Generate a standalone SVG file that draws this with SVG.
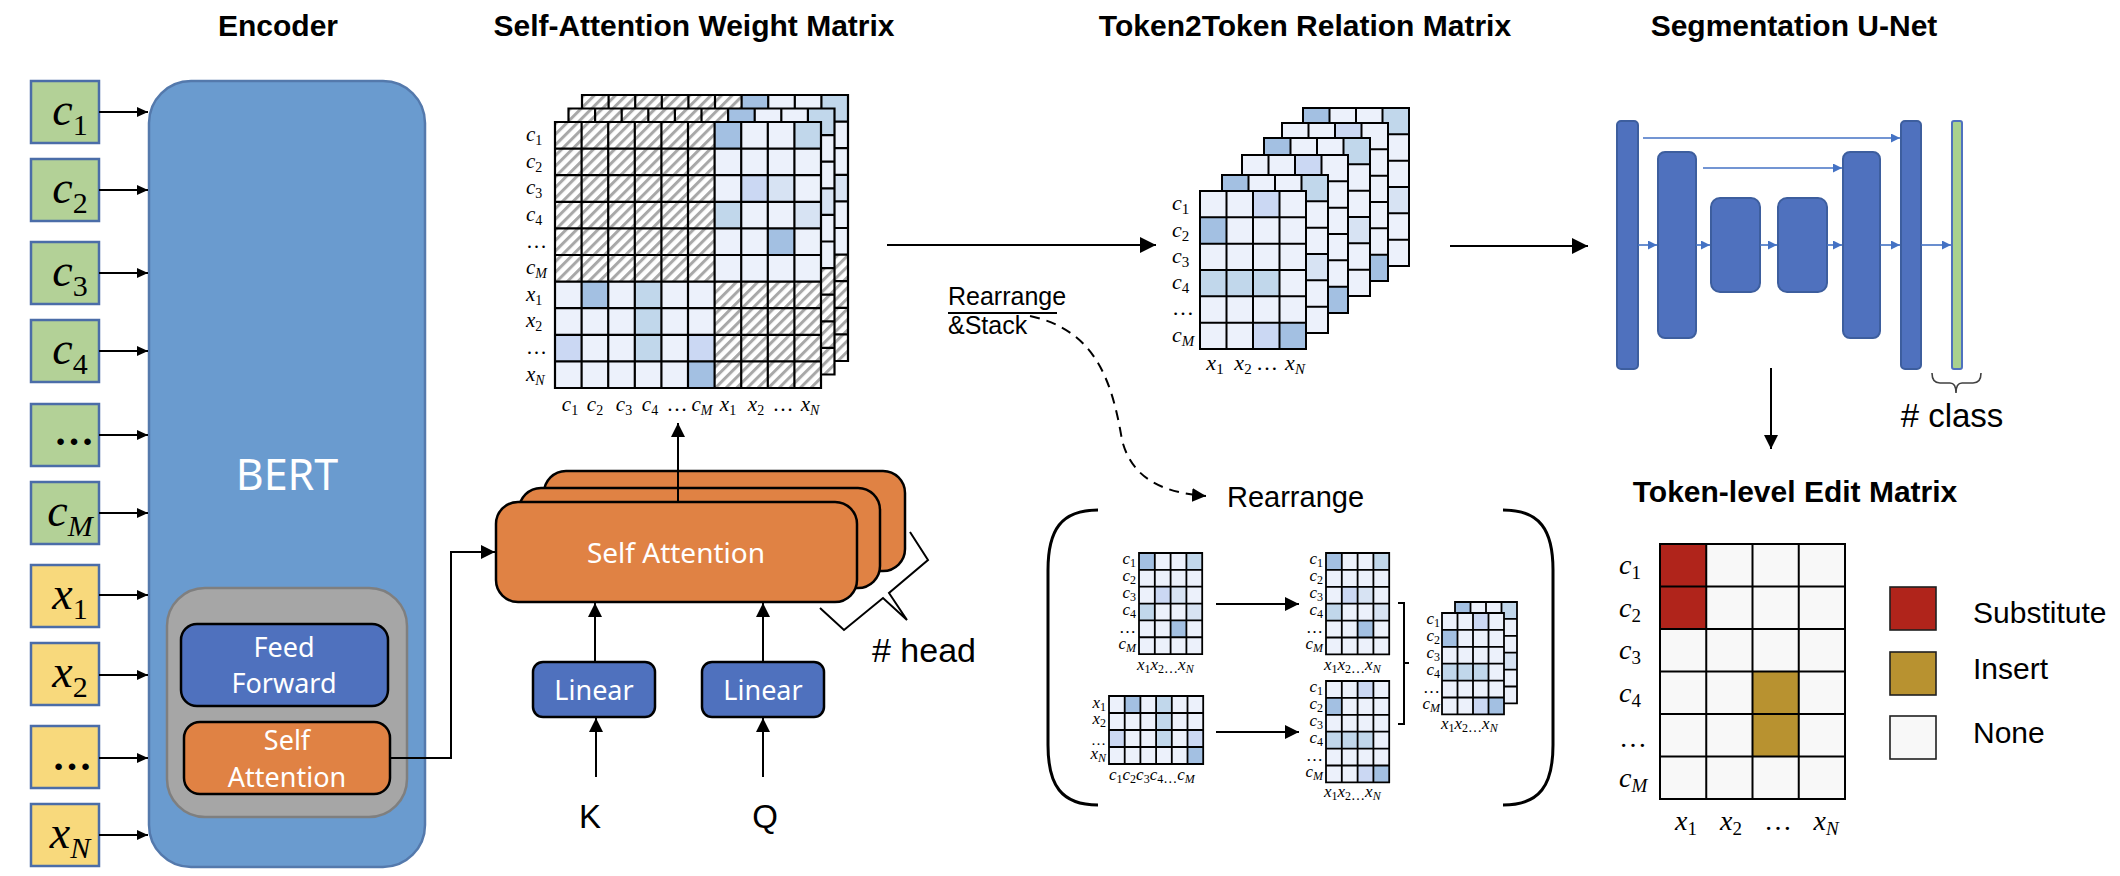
<svg xmlns="http://www.w3.org/2000/svg" width="2120" height="876" viewBox="0 0 2120 876">
<style>
.title{font-family:"Liberation Sans",Arial,sans-serif;font-weight:bold;font-size:30px;text-anchor:middle;fill:#000}
.sans{font-family:"Liberation Sans",Arial,sans-serif;fill:#000}
.ui{font-family:"Noto Sans","Open Sans",sans-serif;fill:#fff;text-anchor:middle}
.m{font-family:"Liberation Serif","DejaVu Serif",serif;font-style:italic;fill:#000}
.n{font-style:normal}
.grid{fill:none;stroke:#000;vector-effect:non-scaling-stroke}
.inbox{stroke:#4B6DA8;stroke-width:2.5}
.arrow{fill:none;stroke:#000;stroke-width:2}
.blue{fill:none;stroke:#4472C4;stroke-width:1.6}
.bar{fill:#4F71BE;stroke:#3D5E9E;stroke-width:2}
</style>
<defs>
<marker id="ahS" markerUnits="userSpaceOnUse" markerWidth="11" markerHeight="10" refX="11" refY="5" orient="auto"><path d="M0,0L11,5L0,10z" fill="#000"/></marker>
<marker id="ahM" markerUnits="userSpaceOnUse" markerWidth="14" markerHeight="14" refX="14" refY="7" orient="auto"><path d="M0,0L14,7L0,14z" fill="#000"/></marker>
<marker id="ahL" markerUnits="userSpaceOnUse" markerWidth="16" markerHeight="16" refX="16" refY="8" orient="auto"><path d="M0,0L16,8L0,16z" fill="#000"/></marker>
<marker id="ahB" markerUnits="userSpaceOnUse" markerWidth="9" markerHeight="9" refX="9" refY="4.5" orient="auto"><path d="M0,0L9,4.5L0,9z" fill="#4472C4"/></marker>
<pattern id="hatch" patternUnits="userSpaceOnUse" width="7.5" height="7.5" patternTransform="rotate(45)"><rect width="7.5" height="7.5" fill="#fff"/><rect width="3" height="7.5" fill="#A8A8A8"/></pattern>
<g id="attn">
<rect width="266" height="266" fill="#ECF1FB"/>
<rect width="159.6" height="159.6" fill="url(#hatch)"/>
<rect x="159.6" y="159.6" width="106.4" height="106.4" fill="url(#hatch)"/>
<rect x="159.6" y="0" width="26.6" height="26.6" fill="#A3C0E2"/>
<rect x="239.4" y="0" width="26.6" height="26.6" fill="#C1D7EB"/>
<rect x="186.2" y="53.2" width="26.6" height="26.6" fill="#CBD8F3"/>
<rect x="212.8" y="53.2" width="26.6" height="26.6" fill="#D7E3F3"/>
<rect x="159.6" y="79.8" width="26.6" height="26.6" fill="#C1D7EB"/>
<rect x="239.4" y="79.8" width="26.6" height="26.6" fill="#D7E3F3"/>
<rect x="212.8" y="106.4" width="26.6" height="26.6" fill="#A3C0E2"/>
<rect x="26.6" y="159.6" width="26.6" height="26.6" fill="#A3C0E2"/>
<rect x="79.8" y="159.6" width="26.6" height="26.6" fill="#C1D7EB"/>
<rect x="79.8" y="186.2" width="26.6" height="26.6" fill="#C1D7EB"/>
<rect x="0" y="212.8" width="26.6" height="26.6" fill="#CBD8F3"/>
<rect x="79.8" y="212.8" width="26.6" height="26.6" fill="#C1D7EB"/>
<rect x="133" y="212.8" width="26.6" height="26.6" fill="#CBD8F3"/>
<rect x="133" y="239.4" width="26.6" height="26.6" fill="#A3C0E2"/>
<path class="grid" d="M0,0H266V266H0Z M26.6,0V266 M53.2,0V266 M79.8,0V266 M106.4,0V266 M133,0V266 M159.6,0V266 M186.2,0V266 M212.8,0V266 M239.4,0V266 M0,26.6H266 M0,53.2H266 M0,79.8H266 M0,106.4H266 M0,133H266 M0,159.6H266 M0,186.2H266 M0,212.8H266 M0,239.4H266"/>
</g>
<g id="mA">
<rect width="4" height="6" fill="#ECF1FB"/>
<rect x="0" y="0" width="1" height="1" fill="#A3C0E2"/>
<rect x="3" y="0" width="1" height="1" fill="#C1D7EB"/>
<rect x="1" y="2" width="1" height="1" fill="#CBD8F3"/>
<rect x="2" y="2" width="1" height="1" fill="#D7E3F3"/>
<rect x="0" y="3" width="1" height="1" fill="#C1D7EB"/>
<rect x="3" y="3" width="1" height="1" fill="#D7E3F3"/>
<rect x="2" y="4" width="1" height="1" fill="#A3C0E2"/>
<path class="grid" d="M0,0H4V6H0Z M1,0V6 M2,0V6 M3,0V6 M0,1H4 M0,2H4 M0,3H4 M0,4H4 M0,5H4"/>
</g>
<g id="mB">
<rect width="4" height="6" fill="#ECF1FB"/>
<rect x="2" y="0" width="1" height="1" fill="#CBD8F3"/>
<rect x="0" y="1" width="1" height="1" fill="#A3C0E2"/>
<rect x="0" y="3" width="3" height="1" fill="#C1D7EB"/>
<rect x="2" y="5" width="1" height="1" fill="#CBD8F3"/>
<rect x="3" y="5" width="1" height="1" fill="#A3C0E2"/>
<path class="grid" d="M0,0H4V6H0Z M1,0V6 M2,0V6 M3,0V6 M0,1H4 M0,2H4 M0,3H4 M0,4H4 M0,5H4"/>
</g>
<g id="mT">
<rect width="6" height="4" fill="#ECF1FB"/>
<rect x="1" y="0" width="1" height="1" fill="#A3C0E2"/>
<rect x="3" y="0" width="1" height="3" fill="#C1D7EB"/>
<rect x="0" y="2" width="1" height="1" fill="#CBD8F3"/>
<rect x="5" y="2" width="1" height="1" fill="#CBD8F3"/>
<rect x="5" y="3" width="1" height="1" fill="#A3C0E2"/>
<path class="grid" d="M0,0H6V4H0Z M1,0V4 M2,0V4 M3,0V4 M4,0V4 M5,0V4 M0,1H6 M0,2H6 M0,3H6"/>
</g>
</defs>

<rect width="2120" height="876" fill="#fff"/>

<g id="titles">
<text class="title" x="278" y="36">Encoder</text>
<text class="title" x="694" y="36">Self-Attention Weight Matrix</text>
<text class="title" x="1305" y="36">Token2Token Relation Matrix</text>
<text class="title" x="1794" y="36">Segmentation U-Net</text>
<text class="title" x="1795" y="502">Token-level Edit Matrix</text>
</g>

<g id="node-bert">
<rect x="149" y="81" width="276" height="786" rx="42" fill="#6A9BCF" stroke="#5479AC" stroke-width="2.5"/>
<text class="ui" x="287" y="490" font-size="43">BERT</text>
</g>
<g id="node-bert-layer">
<rect x="167" y="588" width="240" height="229" rx="38" fill="#A6A6A6" stroke="#7F7F7F" stroke-width="2.5"/>
</g>
<g id="node-feed-forward">
<rect x="181" y="624" width="207" height="82" rx="16" fill="#4F71BE" stroke="#000" stroke-width="2.5"/>
<text class="ui" x="284" y="657" font-size="27">Feed</text>
<text class="ui" x="284" y="693" font-size="27">Forward</text>
</g>
<g id="node-bert-self-attention">
<rect x="184" y="722" width="206" height="72" rx="16" fill="#E08244" stroke="#000" stroke-width="2.5"/>
<text class="ui" x="287" y="750" font-size="27">Self</text>
<text class="ui" x="287" y="787" font-size="27">Attention</text>
</g>

<g id="node-inputs">
<g id="in-c1"><rect class="inbox" x="31" y="81" width="68" height="62" fill="#B3D197"/><text class="m" x="70" y="125" font-size="46" text-anchor="middle">c<tspan class="n" font-size="30" dy="10">1</tspan></text></g>
<g id="in-c2"><rect class="inbox" x="31" y="159" width="68" height="62" fill="#B3D197"/><text class="m" x="70" y="203" font-size="46" text-anchor="middle">c<tspan class="n" font-size="30" dy="10">2</tspan></text></g>
<g id="in-c3"><rect class="inbox" x="31" y="242" width="68" height="62" fill="#B3D197"/><text class="m" x="70" y="286" font-size="46" text-anchor="middle">c<tspan class="n" font-size="30" dy="10">3</tspan></text></g>
<g id="in-c4"><rect class="inbox" x="31" y="320" width="68" height="62" fill="#B3D197"/><text class="m" x="70" y="364" font-size="46" text-anchor="middle">c<tspan class="n" font-size="30" dy="10">4</tspan></text></g>
<g id="in-cdots"><rect class="inbox" x="31" y="404" width="68" height="62" fill="#B3D197"/><text class="m n" x="74" y="445" font-size="40" font-weight="bold" text-anchor="middle">…</text></g>
<g id="in-cM"><rect class="inbox" x="31" y="482" width="68" height="62" fill="#B3D197"/><text class="m" x="70" y="526" font-size="46" text-anchor="middle">c<tspan font-size="30" dy="10">M</tspan></text></g>
<g id="in-x1"><rect class="inbox" x="31" y="565" width="68" height="62" fill="#F8D97C"/><text class="m" x="70" y="609" font-size="46" text-anchor="middle">x<tspan class="n" font-size="30" dy="10">1</tspan></text></g>
<g id="in-x2"><rect class="inbox" x="31" y="643" width="68" height="62" fill="#F8D97C"/><text class="m" x="70" y="687" font-size="46" text-anchor="middle">x<tspan class="n" font-size="30" dy="10">2</tspan></text></g>
<g id="in-xdots"><rect class="inbox" x="31" y="726" width="68" height="62" fill="#F8D97C"/><text class="m n" x="72" y="770" font-size="40" font-weight="bold" text-anchor="middle">…</text></g>
<g id="in-xN"><rect class="inbox" x="31" y="804" width="68" height="62" fill="#F8D97C"/><text class="m" x="70" y="848" font-size="46" text-anchor="middle">x<tspan font-size="30" dy="10">N</tspan></text></g>
</g>

<g id="node-attention-matrix">
<use href="#attn" x="582" y="95" stroke-width="2.2"/>
<use href="#attn" x="568.5" y="108.5" stroke-width="2.2"/>
<use href="#attn" x="555" y="122" stroke-width="2.2"/>
<g font-size="21">
<text class="m" x="526" y="141">c<tspan class="n" font-size="14" dy="4">1</tspan></text>
<text class="m" x="526" y="168">c<tspan class="n" font-size="14" dy="4">2</tspan></text>
<text class="m" x="526" y="194">c<tspan class="n" font-size="14" dy="4">3</tspan></text>
<text class="m" x="526" y="221">c<tspan class="n" font-size="14" dy="4">4</tspan></text>
<text class="m n" x="526" y="248">…</text>
<text class="m" x="526" y="274">c<tspan font-size="14" dy="4">M</tspan></text>
<text class="m" x="526" y="301">x<tspan class="n" font-size="14" dy="4">1</tspan></text>
<text class="m" x="526" y="327">x<tspan class="n" font-size="14" dy="4">2</tspan></text>
<text class="m n" x="526" y="354">…</text>
<text class="m" x="526" y="381">x<tspan font-size="14" dy="4">N</tspan></text>
</g>
<g font-size="21" text-anchor="middle">
<text class="m" x="570" y="411">c<tspan class="n" font-size="14" dy="4">1</tspan></text>
<text class="m" x="595" y="411">c<tspan class="n" font-size="14" dy="4">2</tspan></text>
<text class="m" x="624" y="411">c<tspan class="n" font-size="14" dy="4">3</tspan></text>
<text class="m" x="650" y="411">c<tspan class="n" font-size="14" dy="4">4</tspan></text>
<text class="m n" x="677" y="411">…</text>
<text class="m" x="702" y="411">c<tspan font-size="14" dy="4">M</tspan></text>
<text class="m" x="728" y="411">x<tspan class="n" font-size="14" dy="4">1</tspan></text>
<text class="m" x="756" y="411">x<tspan class="n" font-size="14" dy="4">2</tspan></text>
<text class="m n" x="783" y="411">…</text>
<text class="m" x="810" y="411">x<tspan font-size="14" dy="4">N</tspan></text>
</g>
</g>

<g id="node-self-attention-heads">
<rect x="544" y="471" width="361" height="100" rx="22" fill="#E08244" stroke="#000" stroke-width="2.5"/>
<rect x="519" y="488" width="361" height="100" rx="22" fill="#E08244" stroke="#000" stroke-width="2.5"/>
<rect x="496" y="502" width="361" height="100" rx="22" fill="#E08244" stroke="#000" stroke-width="2.5"/>
<text class="ui" x="676" y="563" font-size="28">Self Attention</text>
<path d="M820,608 L844,630 L883,598 L907,620 L889,593 L928,560 L910,532" fill="none" stroke="#000" stroke-width="2"/>
<text class="sans" x="872" y="662" font-size="34"># head</text>
</g>
<g id="node-linear-k">
<rect x="533" y="662" width="122" height="55" rx="10" fill="#4F71BE" stroke="#000" stroke-width="2.5"/>
<text class="ui" x="594" y="700" font-size="27">Linear</text>
</g>
<g id="node-linear-q">
<rect x="702" y="662" width="122" height="55" rx="10" fill="#4F71BE" stroke="#000" stroke-width="2.5"/>
<text class="ui" x="763" y="700" font-size="27">Linear</text>
</g>
<g id="node-k"><text class="sans" x="590" y="828" font-size="33" text-anchor="middle">K</text></g>
<g id="node-q"><text class="sans" x="765" y="828" font-size="33" text-anchor="middle">Q</text></g>

<g id="node-rearrange-stack-label">
<text class="sans" x="948" y="305" font-size="25">Rearrange</text>
<line x1="948" y1="313" x2="1057" y2="313" stroke="#000" stroke-width="2"/>
<text class="sans" x="948" y="334" font-size="25">&amp;Stack</text>
</g>

<g id="node-token2token">
<use href="#mA" transform="translate(1303,108) scale(26.5,26.33)" stroke-width="2"/>
<use href="#mB" transform="translate(1282,123) scale(26.5,26.33)" stroke-width="2"/>
<use href="#mA" transform="translate(1264,138) scale(26.5,26.33)" stroke-width="2"/>
<use href="#mB" transform="translate(1242,155) scale(26.5,26.33)" stroke-width="2"/>
<use href="#mA" transform="translate(1222,175) scale(26.5,26.33)" stroke-width="2"/>
<use href="#mB" transform="translate(1200,191) scale(26.5,26.33)" stroke-width="2"/>
<text class="m" x="1172" y="210" font-size="22">c<tspan class="n" font-size="15" dy="4">1</tspan></text>
<text class="m" x="1172" y="237" font-size="22">c<tspan class="n" font-size="15" dy="4">2</tspan></text>
<text class="m" x="1172" y="263" font-size="22">c<tspan class="n" font-size="15" dy="4">3</tspan></text>
<text class="m" x="1172" y="289" font-size="22">c<tspan class="n" font-size="15" dy="4">4</tspan></text>
<text class="m n" x="1172" y="315" font-size="22">…</text>
<text class="m" x="1172" y="342" font-size="22">c<tspan font-size="15" dy="4">M</tspan></text>
<text class="m" x="1215" y="370" font-size="22" text-anchor="middle">x<tspan class="n" font-size="15" dy="4">1</tspan></text>
<text class="m" x="1243" y="370" font-size="22" text-anchor="middle">x<tspan class="n" font-size="15" dy="4">2</tspan></text>
<text class="m n" x="1267" y="370" font-size="22" text-anchor="middle">…</text>
<text class="m" x="1295" y="370" font-size="22" text-anchor="middle">x<tspan font-size="15" dy="4">N</tspan></text>
</g>

<g id="node-rearrange">
<text class="sans" x="1227" y="507" font-size="29">Rearrange</text>
<path d="M1098,510 C1061,510 1048,530 1048,570 L1048,745 C1048,785 1061,805 1098,805" fill="none" stroke="#000" stroke-width="3"/>
<path d="M1503,510 C1540,510 1553,530 1553,570 L1553,745 C1553,785 1540,805 1503,805" fill="none" stroke="#000" stroke-width="3"/>
<use href="#mA" transform="translate(1139,553) scale(15.8,16.85)" stroke-width="1.8"/>
<use href="#mT" transform="translate(1109,696) scale(15.7,17)" stroke-width="1.8"/>
<use href="#mA" transform="translate(1326,553) scale(15.8,16.9)" stroke-width="1.8"/>
<use href="#mB" transform="translate(1326,681) scale(15.8,16.9)" stroke-width="1.8"/>
<use href="#mA" transform="translate(1455,602) scale(15.5,16.9)" stroke-width="1.8"/>
<use href="#mB" transform="translate(1442,613) scale(15.5,16.9)" stroke-width="1.8"/>
<path d="M1398,603 H1404 V724 H1398 M1404,663 H1409" fill="none" stroke="#000" stroke-width="2"/>
<g font-size="17" text-anchor="end">
<text class="m" x="1136" y="564">c<tspan class="n" font-size="12" dy="3">1</tspan></text>
<text class="m" x="1136" y="581">c<tspan class="n" font-size="12" dy="3">2</tspan></text>
<text class="m" x="1136" y="598">c<tspan class="n" font-size="12" dy="3">3</tspan></text>
<text class="m" x="1136" y="615">c<tspan class="n" font-size="12" dy="3">4</tspan></text>
<text class="m n" x="1136" y="633">…</text>
<text class="m" x="1136" y="649">c<tspan font-size="12" dy="3">M</tspan></text>
<text class="m" x="1106" y="708">x<tspan class="n" font-size="12" dy="3">1</tspan></text>
<text class="m" x="1106" y="724">x<tspan class="n" font-size="12" dy="3">2</tspan></text>
<text class="m n" x="1106" y="745" font-size="15">…</text>
<text class="m" x="1106" y="759">x<tspan font-size="12" dy="3">N</tspan></text>
<text class="m" x="1323" y="564">c<tspan class="n" font-size="12" dy="3">1</tspan></text>
<text class="m" x="1323" y="581">c<tspan class="n" font-size="12" dy="3">2</tspan></text>
<text class="m" x="1323" y="598">c<tspan class="n" font-size="12" dy="3">3</tspan></text>
<text class="m" x="1323" y="615">c<tspan class="n" font-size="12" dy="3">4</tspan></text>
<text class="m n" x="1323" y="633">…</text>
<text class="m" x="1323" y="649">c<tspan font-size="12" dy="3">M</tspan></text>
<text class="m" x="1323" y="692">c<tspan class="n" font-size="12" dy="3">1</tspan></text>
<text class="m" x="1323" y="709">c<tspan class="n" font-size="12" dy="3">2</tspan></text>
<text class="m" x="1323" y="726">c<tspan class="n" font-size="12" dy="3">3</tspan></text>
<text class="m" x="1323" y="743">c<tspan class="n" font-size="12" dy="3">4</tspan></text>
<text class="m n" x="1323" y="761">…</text>
<text class="m" x="1323" y="777">c<tspan font-size="12" dy="3">M</tspan></text>
<text class="m" x="1440" y="624">c<tspan class="n" font-size="12" dy="3">1</tspan></text>
<text class="m" x="1440" y="641">c<tspan class="n" font-size="12" dy="3">2</tspan></text>
<text class="m" x="1440" y="658">c<tspan class="n" font-size="12" dy="3">3</tspan></text>
<text class="m" x="1440" y="675">c<tspan class="n" font-size="12" dy="3">4</tspan></text>
<text class="m n" x="1440" y="693">…</text>
<text class="m" x="1440" y="709">c<tspan font-size="12" dy="3">M</tspan></text>
</g>
<g font-size="17">
<text class="m" x="1137" y="670">x<tspan class="n" font-size="12" dy="3">1</tspan><tspan dy="-3">x</tspan><tspan class="n" font-size="12" dy="3">2</tspan><tspan class="n" font-size="14">…</tspan><tspan dy="-3">x</tspan><tspan font-size="12" dy="3">N</tspan></text>
<text class="m" x="1109" y="780">c<tspan class="n" font-size="12" dy="3">1</tspan><tspan dy="-3">c</tspan><tspan class="n" font-size="12" dy="3">2</tspan><tspan dy="-3">c</tspan><tspan class="n" font-size="12" dy="3">3</tspan><tspan dy="-3">c</tspan><tspan class="n" font-size="12" dy="3">4</tspan><tspan class="n" font-size="14">…</tspan><tspan dy="-3">c</tspan><tspan font-size="12" dy="3">M</tspan></text>
<text class="m" x="1324" y="670">x<tspan class="n" font-size="12" dy="3">1</tspan><tspan dy="-3">x</tspan><tspan class="n" font-size="12" dy="3">2</tspan><tspan class="n" font-size="14">…</tspan><tspan dy="-3">x</tspan><tspan font-size="12" dy="3">N</tspan></text>
<text class="m" x="1324" y="797">x<tspan class="n" font-size="12" dy="3">1</tspan><tspan dy="-3">x</tspan><tspan class="n" font-size="12" dy="3">2</tspan><tspan class="n" font-size="14">…</tspan><tspan dy="-3">x</tspan><tspan font-size="12" dy="3">N</tspan></text>
<text class="m" x="1441" y="729">x<tspan class="n" font-size="12" dy="3">1</tspan><tspan dy="-3">x</tspan><tspan class="n" font-size="12" dy="3">2</tspan><tspan class="n" font-size="14">…</tspan><tspan dy="-3">x</tspan><tspan font-size="12" dy="3">N</tspan></text>
</g>
</g>

<g id="node-unet">
<rect class="bar" x="1617" y="121" width="21" height="248" rx="4"/>
<rect class="bar" x="1658" y="152" width="38" height="186" rx="7"/>
<rect class="bar" x="1711" y="198" width="49" height="94" rx="9"/>
<rect class="bar" x="1778" y="198" width="49" height="94" rx="9"/>
<rect class="bar" x="1843" y="152" width="37" height="186" rx="7"/>
<rect class="bar" x="1901" y="121" width="20" height="248" rx="4"/>
<rect x="1952" y="121" width="10" height="248" rx="2" fill="#A9D18E" stroke="#4F71BE" stroke-width="2"/>
<line class="blue" x1="1643" y1="138" x2="1900" y2="138" marker-end="url(#ahB)"/>
<line class="blue" x1="1703" y1="168" x2="1842" y2="168" marker-end="url(#ahB)"/>
<line class="blue" x1="1638" y1="245" x2="1657" y2="245" marker-end="url(#ahB)"/>
<line class="blue" x1="1696" y1="245" x2="1710" y2="245" marker-end="url(#ahB)"/>
<line class="blue" x1="1760" y1="245" x2="1777" y2="245" marker-end="url(#ahB)"/>
<line class="blue" x1="1827" y1="245" x2="1842" y2="245" marker-end="url(#ahB)"/>
<line class="blue" x1="1880" y1="245" x2="1900" y2="245" marker-end="url(#ahB)"/>
<line class="blue" x1="1921" y1="245" x2="1951" y2="245" marker-end="url(#ahB)"/>
<path d="M1932,373 Q1932,383 1940,383 L1950,383 Q1956,383 1956,393 Q1956,383 1962,383 L1973,383 Q1981,383 1981,373" fill="none" stroke="#404040" stroke-width="1.6"/>
<text class="sans" x="1952" y="427" font-size="33" text-anchor="middle"># class</text>
</g>

<g id="node-edit-matrix">
<rect x="1660" y="544" width="185" height="255" fill="#F8F8F8"/>
<rect x="1660" y="544" width="46.25" height="85" fill="#B0241B"/>
<rect x="1752.5" y="671.5" width="46.25" height="85" fill="#B89230"/>
<path d="M1660,544H1845V799H1660Z M1706.25,544V799 M1752.5,544V799 M1798.75,544V799 M1660,586.5H1845 M1660,629H1845 M1660,671.5H1845 M1660,714H1845 M1660,756.5H1845" fill="none" stroke="#000" stroke-width="2"/>
<text class="m" x="1619" y="574" font-size="28">c<tspan class="n" font-size="19" dy="5">1</tspan></text>
<text class="m" x="1619" y="617" font-size="28">c<tspan class="n" font-size="19" dy="5">2</tspan></text>
<text class="m" x="1619" y="659" font-size="28">c<tspan class="n" font-size="19" dy="5">3</tspan></text>
<text class="m" x="1619" y="702" font-size="28">c<tspan class="n" font-size="19" dy="5">4</tspan></text>
<text class="m n" x="1619" y="747" font-size="28">…</text>
<text class="m" x="1619" y="787" font-size="28">c<tspan font-size="19" dy="5">M</tspan></text>
<text class="m" x="1686" y="830" font-size="28" text-anchor="middle">x<tspan class="n" font-size="19" dy="5">1</tspan></text>
<text class="m" x="1731" y="830" font-size="28" text-anchor="middle">x<tspan class="n" font-size="19" dy="5">2</tspan></text>
<text class="m n" x="1778" y="830" font-size="28" text-anchor="middle">…</text>
<text class="m" x="1826" y="830" font-size="28" text-anchor="middle">x<tspan font-size="19" dy="5">N</tspan></text>
</g>
<g id="node-legend">
<rect x="1890" y="587" width="46" height="43" fill="#B0241B" stroke="#202020" stroke-width="1.6"/>
<rect x="1890" y="652" width="46" height="43" fill="#B89230" stroke="#202020" stroke-width="1.6"/>
<rect x="1890" y="716" width="46" height="43" fill="#F8F8F8" stroke="#202020" stroke-width="1.6"/>
<text class="sans" x="1973" y="623" font-size="30">Substitute</text>
<text class="sans" x="1973" y="679" font-size="30">Insert</text>
<text class="sans" x="1973" y="743" font-size="30">None</text>
</g>

<g id="connectors">
<line class="arrow" x1="99" y1="112" x2="148" y2="112" marker-end="url(#ahS)"/>
<line class="arrow" x1="99" y1="190" x2="148" y2="190" marker-end="url(#ahS)"/>
<line class="arrow" x1="99" y1="273" x2="148" y2="273" marker-end="url(#ahS)"/>
<line class="arrow" x1="99" y1="351" x2="148" y2="351" marker-end="url(#ahS)"/>
<line class="arrow" x1="99" y1="435" x2="148" y2="435" marker-end="url(#ahS)"/>
<line class="arrow" x1="99" y1="513" x2="148" y2="513" marker-end="url(#ahS)"/>
<line class="arrow" x1="99" y1="595" x2="148" y2="595" marker-end="url(#ahS)"/>
<line class="arrow" x1="99" y1="675" x2="148" y2="675" marker-end="url(#ahS)"/>
<line class="arrow" x1="99" y1="758" x2="148" y2="758" marker-end="url(#ahS)"/>
<line class="arrow" x1="99" y1="835" x2="148" y2="835" marker-end="url(#ahS)"/>
<polyline class="arrow" points="390,758 451,758 451,552 495,552" marker-end="url(#ahM)"/>
<line class="arrow" x1="596" y1="777" x2="596" y2="718" stroke-width="2.5" marker-end="url(#ahM)"/>
<line class="arrow" x1="763" y1="777" x2="763" y2="718" stroke-width="2.5" marker-end="url(#ahM)"/>
<line class="arrow" x1="595" y1="662" x2="595" y2="603" stroke-width="2.5" marker-end="url(#ahM)"/>
<line class="arrow" x1="763" y1="662" x2="763" y2="603" stroke-width="2.5" marker-end="url(#ahM)"/>
<line class="arrow" x1="678" y1="502" x2="678" y2="423" stroke-width="2.5" marker-end="url(#ahM)"/>
<line class="arrow" x1="887" y1="245" x2="1156" y2="245" stroke-width="3" marker-end="url(#ahL)"/>
<line class="arrow" x1="1450" y1="246" x2="1588" y2="246" stroke-width="3" marker-end="url(#ahL)"/>
<path class="arrow" d="M1030,316 C1095,330 1112,380 1122,440 C1132,480 1165,493 1206,496" stroke-width="2.5" stroke-dasharray="10 7" marker-end="url(#ahM)"/>
<line class="arrow" x1="1216" y1="604" x2="1299" y2="604" stroke-width="2.5" marker-end="url(#ahM)"/>
<line class="arrow" x1="1216" y1="732" x2="1299" y2="732" stroke-width="2.5" marker-end="url(#ahM)"/>
<line class="arrow" x1="1771" y1="368" x2="1771" y2="449" stroke-width="2.5" marker-end="url(#ahM)"/>
</g>
</svg>
